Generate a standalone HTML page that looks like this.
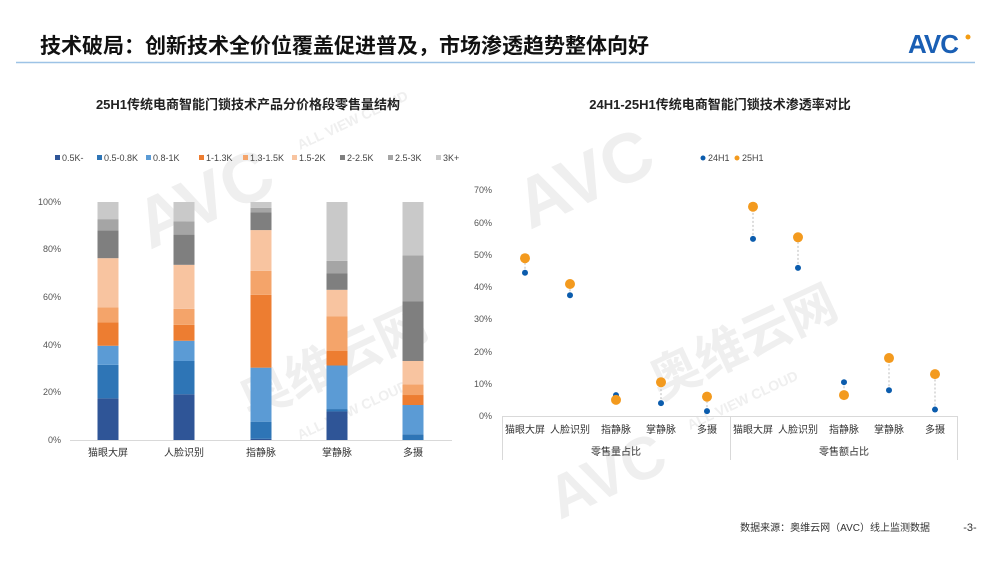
<!DOCTYPE html>
<html><head><meta charset="utf-8"><style>
html,body{margin:0;padding:0;background:#fff;}
body{width:1000px;height:562px;overflow:hidden;position:relative;font-family:"Liberation Sans","Noto Sans CJK SC",sans-serif;}
svg{position:absolute;left:0;top:0;}
</style></head><body>
<svg id="s" width="1000" height="562" viewBox="0 0 1000 562" xmlns="http://www.w3.org/2000/svg" font-family="Liberation Sans, Noto Sans CJK SC, sans-serif">
<g fill="#efefef" font-weight="bold">
<text x="150" y="250" font-size="70" transform="rotate(-25 150 250)">AVC</text>
<text x="250" y="420" font-size="50" transform="rotate(-25 250 420)">奥维云网</text>
<text x="530" y="230" font-size="70" transform="rotate(-25 530 230)">AVC</text>
<text x="660" y="400" font-size="50" transform="rotate(-25 660 400)">奥维云网</text>
<text x="560" y="520" font-size="60" transform="rotate(-25 560 520)">AVC</text>
</g>
<g fill="#efefef" font-weight="bold" font-size="14">
<text x="300" y="150" transform="rotate(-25 300 150)">ALL VIEW CLOUD</text>
<text x="690" y="430" transform="rotate(-25 690 430)">ALL VIEW CLOUD</text>
<text x="300" y="440" transform="rotate(-25 300 440)">ALL VIEW CLOUD</text>
</g>
<text x="40" y="53" font-size="21" font-weight="bold" fill="#111">技术破局：创新技术全价位覆盖促进普及，市场渗透趋势整体向好</text>
<line x1="16" y1="62.5" x2="975" y2="62.5" stroke="#9dc3e6" stroke-width="1.5"/>
<text x="908" y="53" font-size="26" font-weight="bold" fill="#1a5fb4" letter-spacing="-1">AVC</text>
<circle cx="968" cy="37" r="2.5" fill="#f39c12"/>
<text x="248" y="109" font-size="13" font-weight="bold" text-anchor="middle" fill="#222">25H1传统电商智能门锁技术产品分价格段零售量结构</text>
<text x="720" y="109" font-size="13" font-weight="bold" text-anchor="middle" fill="#222">24H1-25H1传统电商智能门锁技术渗透率对比</text>
<g font-size="9" fill="#444" id="leg"></g>
<g font-size="9" fill="#555" text-anchor="end">
<text x="61" y="443">0%</text><text x="61" y="395">20%</text><text x="61" y="348">40%</text><text x="61" y="300">60%</text><text x="61" y="252">80%</text><text x="61" y="205">100%</text>
</g>
<line x1="70" y1="440.5" x2="452" y2="440.5" stroke="#d9d9d9"/>
<g id="bars"></g>
<g font-size="10" fill="#333" text-anchor="middle">
<text x="108" y="456">猫眼大屏</text><text x="184" y="456">人脸识别</text><text x="261" y="456">指静脉</text><text x="337" y="456">掌静脉</text><text x="413" y="456">多摄</text>
</g>
<circle cx="703" cy="158" r="2.5" fill="#0b5cad"/><text x="708" y="161" font-size="9" fill="#444">24H1</text>
<circle cx="737" cy="158" r="2.5" fill="#f39a1e"/><text x="742" y="161" font-size="9" fill="#444">25H1</text>
<g font-size="9" fill="#555" text-anchor="end">
<text x="492" y="419">0%</text><text x="492" y="387">10%</text><text x="492" y="355">20%</text><text x="492" y="322">30%</text><text x="492" y="290">40%</text><text x="492" y="258">50%</text><text x="492" y="226">60%</text><text x="492" y="193">70%</text>
</g>
<g stroke="#d9d9d9" fill="none">
<line x1="502" y1="416.5" x2="958" y2="416.5"/>
<line x1="502.5" y1="416" x2="502.5" y2="460"/>
<line x1="730.5" y1="416" x2="730.5" y2="460"/>
<line x1="957.5" y1="416" x2="957.5" y2="460"/>
</g>
<g id="dots"></g>
<g font-size="10" fill="#333" text-anchor="middle">
<text x="525" y="433">猫眼大屏</text><text x="570" y="433">人脸识别</text><text x="616" y="433">指静脉</text><text x="661" y="433">掌静脉</text><text x="707" y="433">多摄</text>
<text x="753" y="433">猫眼大屏</text><text x="798" y="433">人脸识别</text><text x="844" y="433">指静脉</text><text x="889" y="433">掌静脉</text><text x="935" y="433">多摄</text>
<text x="616" y="455">零售量占比</text><text x="844" y="455">零售额占比</text>
</g>
<text x="930" y="531" font-size="10" fill="#333" text-anchor="end">数据来源：奥维云网（AVC）线上监测数据</text>
<text x="970" y="531" font-size="11" fill="#333" text-anchor="middle">-3-</text>
</svg>
<script>
var NS="http://www.w3.org/2000/svg";
function el(p,t,a){var e=document.createElementNS(NS,t);for(var k in a)e.setAttribute(k,a[k]);document.getElementById(p).appendChild(e);return e;}
var cols=["#2F5597","#2E75B6","#5B9BD5","#ED7D31","#F4A46A","#F8C4A0","#7F7F7F","#A5A5A5","#C9C9C9"];
var names=["0.5K-","0.5-0.8K","0.8-1K","1-1.3K","1.3-1.5K","1.5-2K","2-2.5K","2.5-3K","3K+"];
var lx=[55,97,146,199,243,292,340,388,436];
for(var i=0;i<9;i++){el('leg','rect',{x:lx[i],y:155,width:5,height:5,fill:cols[i]});var t=el('leg','text',{x:lx[i]+7,y:161});t.textContent=names[i];}
var cum=[[17.5,31.6,39.6,49.4,55.7,76.4,88.1,92.8,100],[19.2,33.2,41.7,48.4,55.1,73.6,86.3,91.9,100],[0.5,7.7,30.4,61,71.1,88.2,95.6,97.5,100],[12,13,31.3,37.4,51.9,63.1,70.1,75.3,100],[0,2.4,14.7,18.9,23.4,33.2,58.2,77.6,100]];
var cx=[108,184,261,337,413];
for(var b=0;b<5;b++){var prev=0;for(var i=0;i<9;i++){var v=cum[b][i];var y1=440-v*2.38,y0=440-prev*2.38;if(v>prev)el('bars','rect',{x:cx[b]-10.5,y:y1,width:21,height:y0-y1,fill:cols[i]});prev=v;}}
var dx=[525,570,616,661,707,753,798,844,889,935];
var a=[44.5,37.5,6.5,4,1.5,55,46,10.5,8,2],c=[49,41,5,10.5,6,65,55.5,6.5,18,13];
function Y(v){return 416-v*3.22;}
for(var i=0;i<10;i++){el('dots','line',{x1:dx[i],y1:Y(a[i]),x2:dx[i],y2:Y(c[i]),stroke:"#bbb","stroke-dasharray":"2,2"});}
for(var i=0;i<10;i++){el('dots','circle',{cx:dx[i],cy:Y(a[i]),r:3,fill:"#0b5cad"});el('dots','circle',{cx:dx[i],cy:Y(c[i]),r:5,fill:"#f39a1e"});}
</script>
</body></html>
